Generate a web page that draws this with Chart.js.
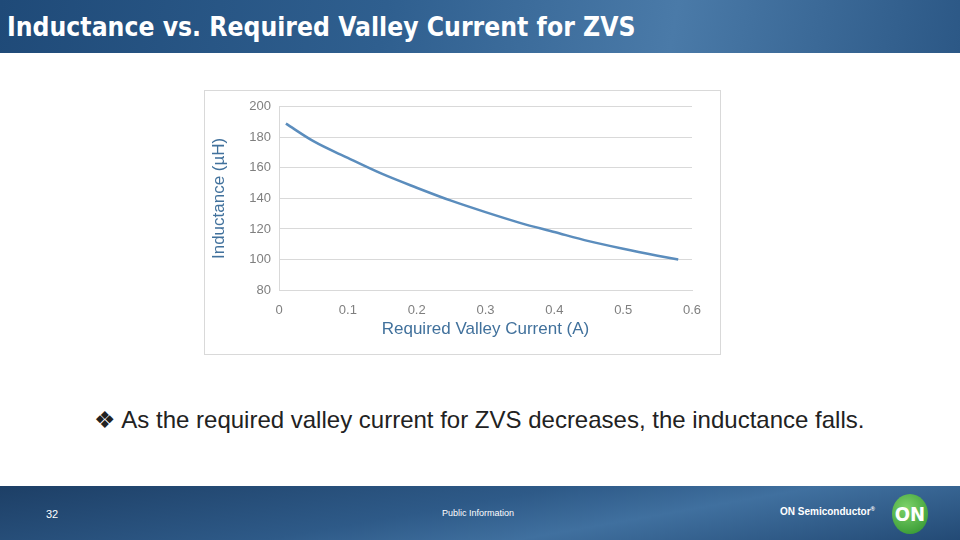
<!DOCTYPE html>
<html>
<head>
<meta charset="utf-8">
<script src="https://cdn.jsdelivr.net/npm/chart.js@4"></script>
<style>
  body { margin: 0; width: 960px; height: 540px; position: relative; overflow: hidden; background: #fff; font-family: "Liberation Sans", Arial, sans-serif; }
  #header { position: absolute; left: 0; top: 0; width: 960px; height: 53px;
    background: linear-gradient(100deg, #1f4a78 0%, #2f5f8f 40%, #4a7aa8 70%, #2c5886 100%); }
  #header h1 { margin: 0; position: absolute; left: 7px; top: 12px; color: #fff; font-size: 26px; font-weight: bold;
    font-family: "DejaVu Sans Condensed", sans-serif; transform: scaleX(1.01); transform-origin: left; white-space: nowrap; }
  #box { position: absolute; left: 204px; top: 90px; width: 515px; height: 263px; border: 1px solid #d9d9d9; }
  #bullet { position: absolute; left: 94px; top: 406px; font-size: 24px; color: #222; white-space: nowrap; }
  #footer { position: absolute; left: 0; top: 486px; width: 960px; height: 54px;
    background: linear-gradient(170deg, #1d3f66 0%, #2e5a88 45%, #40709f 65%, #234a75 100%); color: #fff; }
  #footer .num { position: absolute; left: 46px; top: 22px; font-size: 11px; }
  #footer .pub { position: absolute; left: 442px; top: 22px; font-size: 9px; }
  #footer .on { position: absolute; left: 780px; top: 20px; font-size: 10px; font-weight: bold; }
  #footer .logo { position: absolute; left: 892px; top: 8px; width: 36px; height: 40px; border-radius: 50%;
    background: radial-gradient(circle at 40% 35%, #7ed36a, #2a8f2a); color: #fff; font-weight: bold; font-size: 20px;
    text-align: center; line-height: 40px; font-family: "DejaVu Sans Condensed", sans-serif; }
</style>
</head>
<body>
<div id="header"><h1>Inductance vs. Required Valley Current for ZVS</h1></div>
<div id="box"><canvas id="c" width="515" height="263"></canvas></div>
<div id="bullet">&#10070; As the required valley current for ZVS decreases, the inductance falls.</div>
<div id="footer">
  <span class="num">32</span>
  <span class="pub">Public Information</span>
  <span class="on">ON Semiconductor<sup style="font-size:6px">®</sup></span>
  <div class="logo">ON</div>
</div>
<script>
const currents = [0.01, 0.05, 0.1, 0.15, 0.2, 0.25, 0.3, 0.35, 0.4, 0.45, 0.5, 0.55, 0.58];
const inductance = [189, 177.5, 166.5, 156, 147, 138.5, 131, 124, 118, 112, 107, 102.5, 100];

const tickColor = "#7f7f7f";
const titleColor = "#41719c";

new Chart(document.getElementById("c"), {
  type: "scatter",
  data: {
    datasets: [{
      data: currents.map((x, i) => ({ x: x, y: inductance[i] })),
      showLine: true,
      borderColor: "#5b8dbd",
      borderWidth: 2.5,
      pointRadius: 0,
      cubicInterpolationMode: "monotone",
      fill: false,
    }],
  },
  options: {
    responsive: false,
    animation: false,
    layout: { padding: { top: 12, right: 28, left: 0, bottom: 14 } },
    plugins: { legend: { display: false }, tooltip: { enabled: false } },
    scales: {
      x: {
        type: "linear", min: 0, max: 0.6,
        ticks: { stepSize: 0.1, color: tickColor, font: { size: 13, family: "Liberation Sans" }, padding: 5 },
        grid: { display: false },
        border: { color: "#d9d9d9" },
        title: { display: true, text: "Required Valley Current (A)", color: titleColor,
          font: { size: 17, family: "Liberation Sans" }, padding: { top: -3, bottom: 0 } },
        afterFit: (s) => { s.height = 50; },
      },
      y: {
        min: 80, max: 200,
        ticks: { stepSize: 20, color: tickColor, font: { size: 13, family: "Liberation Sans" }, padding: 8 },
        grid: { color: "#d9d9d9", drawTicks: false },
        border: { color: "#d9d9d9" },
        title: { display: true, text: "Inductance (µH)", color: titleColor,
          font: { size: 17, family: "Liberation Sans" }, padding: { bottom: 0 } },
        afterFit: (s) => { s.width = 74; },
      },
    },
  },
});
</script>
</body>
</html>
